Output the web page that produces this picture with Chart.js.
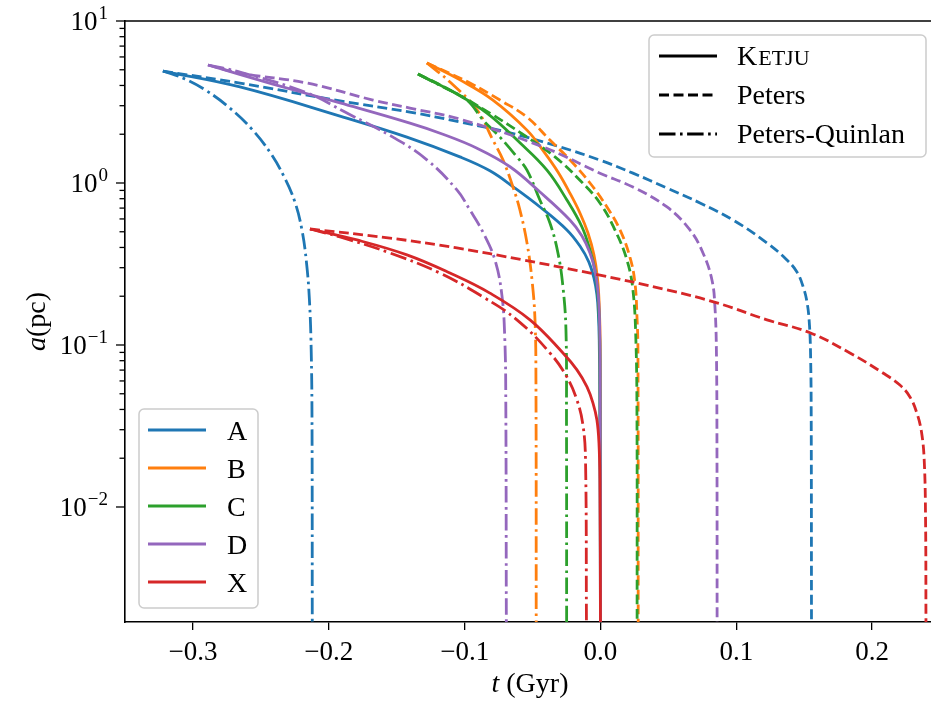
<!DOCTYPE html>
<html lang="en">
<head>
<meta charset="UTF-8" />
<title>Binary separation vs time</title>
<script src="https://cdn.jsdelivr.net/npm/chart.js"></script>
<style>
  body { margin: 0; background: #fff; }
  canvas { display: block; }
</style>
</head>
<body>
<canvas id="sep" width="931" height="703"></canvas>
<script>
// separation a (pc) against time t (Gyr) for each binary: Ketju run, Peters and Peters-Quinlan estimates
const tA_ketju  = [-0.3222, -0.2655, -0.1918, -0.1425, -0.1035, -0.0814, -0.0630, -0.0445, -0.0247, -0.0151, -0.0085, -0.0048, -0.0026, -0.0015, -0.0009, -0.0005, 0.0];
const aA_ketju  = [4.91, 3.92, 2.59, 1.92, 1.45, 1.19, 0.931, 0.711, 0.513, 0.408, 0.325, 0.259, 0.204, 0.153, 0.107, 0.0457, 0.0019];
const tA_peters = [-0.3222, -0.2655, -0.1918, -0.1403, -0.1035, -0.0666, -0.0298, 0.0, 0.0239, 0.0490, 0.0733, 0.0976, 0.1226, 0.1373, 0.1447, 0.1491, 0.1521, 0.1539, 0.1548, 0.1552, 0.1554];
const aA_peters = [4.91, 4.14, 3.21, 2.74, 2.38, 2.04, 1.67, 1.38, 1.15, 0.931, 0.753, 0.591, 0.427, 0.335, 0.282, 0.231, 0.184, 0.133, 0.0807, 0.0344, 0.0019];
const tA_pq     = [-0.3222, -0.3060, -0.2898, -0.2729, -0.2567, -0.2434, -0.2331, -0.2250, -0.2198, -0.2165, -0.2143, -0.2130, -0.2124, -0.2122];
const aA_pq     = [4.91, 4.39, 3.70, 2.90, 2.15, 1.55, 1.10, 0.764, 0.513, 0.325, 0.190, 0.0931, 0.0344, 0.0019];

const tB_ketju  = [-0.1278, -0.1035, -0.0792, -0.0541, -0.0409, -0.0313, -0.0225, -0.0151, -0.0092, -0.0048, -0.0022, -0.0009, -0.0002, 0.0];
const aB_ketju  = [5.51, 4.33, 3.25, 2.12, 1.53, 1.17, 0.867, 0.653, 0.491, 0.360, 0.259, 0.177, 0.100, 0.0019];
const tB_peters = [-0.1278, -0.0961, -0.0740, -0.0541, -0.0372, -0.0225, -0.0077, 0.0048, 0.0144, 0.0217, 0.0254, 0.0269, 0.0276, 0.0278];
const aB_peters = [5.51, 4.14, 3.25, 2.55, 1.84, 1.39, 1.0, 0.711, 0.513, 0.349, 0.242, 0.149, 0.0931, 0.0019];
const tB_pq     = [-0.1278, -0.1108, -0.0909, -0.0792, -0.0718, -0.0644, -0.0593, -0.0541, -0.0504, -0.0482, -0.0475, -0.0473];
const aB_pq     = [5.51, 4.20, 2.83, 1.84, 1.39, 0.944, 0.681, 0.427, 0.252, 0.143, 0.0608, 0.0019];

const tC_ketju  = [-0.1344, -0.1086, -0.0836, -0.0593, -0.0394, -0.0247, -0.0136, -0.0077, -0.0041, -0.0020, -0.0009, -0.0003, 0.0];
const aC_ketju  = [4.71, 3.65, 2.70, 1.77, 1.20, 0.785, 0.535, 0.386, 0.290, 0.209, 0.143, 0.0807, 0.0019];
const tC_peters = [-0.1344, -0.1108, -0.0814, -0.0541, -0.0335, -0.0151, -0.0004, 0.0107, 0.0195, 0.0239, 0.0261, 0.0269, 0.0270];
const aC_peters = [4.71, 3.75, 2.70, 1.92, 1.45, 1.04, 0.753, 0.513, 0.335, 0.219, 0.107, 0.0344, 0.0019];
const tC_pq     = [-0.1344, -0.1160, -0.0983, -0.0865, -0.0740, -0.0615, -0.0541, -0.0446, -0.0372, -0.0313, -0.0276, -0.0254, -0.0250, -0.0249];
const aC_pq     = [4.71, 3.92, 3.25, 2.45, 1.92, 1.45, 1.20, 0.785, 0.566, 0.370, 0.228, 0.124, 0.0344, 0.0019];

const tD_ketju  = [-0.2890, -0.2412, -0.1918, -0.1403, -0.1160, -0.0909, -0.0666, -0.0445, -0.0225, -0.0136, -0.0077, -0.0041, -0.0018, -0.0007, -0.0002, 0.0];
const aD_ketju  = [5.35, 4.08, 3.12, 2.34, 2.00, 1.64, 1.26, 0.879, 0.591, 0.471, 0.370, 0.290, 0.212, 0.143, 0.0702, 0.0019];
const tD_peters = [-0.2890, -0.2655, -0.2161, -0.1675, -0.1403, -0.1035, -0.0423, -0.0004, 0.0239, 0.0490, 0.0659, 0.0755, 0.0821, 0.0843, 0.0854, 0.0858, 0.0859];
const aD_peters = [5.35, 4.77, 4.14, 3.25, 2.90, 2.48, 1.67, 1.15, 0.944, 0.711, 0.513, 0.370, 0.252, 0.172, 0.0893, 0.0215, 0.0019];
const tD_pq     = [-0.2890, -0.2655, -0.2161, -0.1867, -0.1528, -0.1278, -0.1057, -0.0961, -0.0862, -0.0777, -0.0726, -0.0704, -0.0697, -0.0693];
const aD_pq     = [5.35, 4.84, 3.60, 2.70, 1.92, 1.39, 0.906, 0.681, 0.491, 0.335, 0.204, 0.107, 0.0457, 0.0019];

const tX_ketju  = [-0.2139, -0.1793, -0.1425, -0.1108, -0.0814, -0.0519, -0.0276, -0.0173, -0.0099, -0.0055, -0.0026, -0.0011, -0.0004, 0.0];
const aX_ketju  = [0.520, 0.445, 0.360, 0.278, 0.209, 0.143, 0.0893, 0.0702, 0.0551, 0.0438, 0.0344, 0.0248, 0.0147, 0.0019];
const tX_peters = [-0.2139, -0.1550, -0.1057, -0.0571, -0.0004, 0.0490, 0.0858, 0.1226, 0.1543, 0.1837, 0.2080, 0.2205, 0.2279, 0.2330, 0.2364, 0.2384, 0.2394, 0.2397];
const aX_peters = [0.520, 0.457, 0.397, 0.335, 0.270, 0.219, 0.182, 0.143, 0.119, 0.0893, 0.0672, 0.0566, 0.0478, 0.0380, 0.0290, 0.0195, 0.0083, 0.0019];
const tX_pq     = [-0.2139, -0.1918, -0.1550, -0.1182, -0.0865, -0.0615, -0.0372, -0.0247, -0.0173, -0.0129, -0.0110, -0.0103];
const aX_pq     = [0.520, 0.464, 0.370, 0.278, 0.198, 0.143, 0.0893, 0.0634, 0.0457, 0.0321, 0.0195, 0.0019];

const binaryNames = ['A', 'B', 'C', 'D', 'X'];
const binaryColors = ['#1f77b4', '#ff7f0e', '#2ca02c', '#9467bd', '#d62728'];
const modelNames = ['Ketju', 'Peters', 'Peters-Quinlan'];
const xTicks = [-0.3, -0.2, -0.1, 0.0, 0.1, 0.2];
const yDecades = [-2, -1, 0, 1];

const runs = [
  [[tA_ketju, aA_ketju], [tA_peters, aA_peters], [tA_pq, aA_pq]],
  [[tB_ketju, aB_ketju], [tB_peters, aB_peters], [tB_pq, aB_pq]],
  [[tC_ketju, aC_ketju], [tC_peters, aC_peters], [tC_pq, aC_pq]],
  [[tD_ketju, aD_ketju], [tD_peters, aD_peters], [tD_pq, aD_pq]],
  [[tX_ketju, aX_ketju], [tX_peters, aX_peters], [tX_pq, aX_pq]]
];

const SERIF = '"Liberation Serif", "DejaVu Serif", serif';
const LW = 2.8;
const dashes = [[], [10, 4.5], [16.5, 4.5, 2.6, 4.5]];

const datasets = [];
runs.forEach((run, b) => {
  run.forEach(([ts, as], m) => {
    datasets.push({
      label: binaryNames[b] + ' ' + modelNames[m],
      data: ts.map((t, i) => ({ x: t, y: as[i] })),
      borderColor: binaryColors[b],
      borderWidth: LW,
      borderDash: dashes[m],
      showLine: true,
      pointRadius: 0,
      tension: 0.4,
      order: -datasets.length   // later series painted on top
    });
  });
});

function drawLegendFrame(ctx, x, y, w, h) {
  ctx.save();
  ctx.fillStyle = 'rgba(255,255,255,0.8)';
  ctx.strokeStyle = '#cccccc';
  ctx.lineWidth = 1.5;
  ctx.beginPath();
  ctx.roundRect(x, y, w, h, 5);
  ctx.fill();
  ctx.stroke();
  ctx.restore();
}

function legendLine(ctx, x0, x1, y, color, dash) {
  ctx.save();
  ctx.strokeStyle = color;
  ctx.lineWidth = LW;
  ctx.setLineDash(dash);
  ctx.beginPath();
  ctx.moveTo(x0, y);
  ctx.lineTo(x1, y);
  ctx.stroke();
  ctx.restore();
}

const decorations = {
  id: 'decorations',
  afterDraw(chart) {
    const { ctx, chartArea: ca, scales: { y } } = chart;
    ctx.save();

    // top spine
    ctx.strokeStyle = '#000';
    ctx.lineWidth = 1.6;
    ctx.beginPath();
    ctx.moveTo(ca.left - 0.8, ca.top);
    ctx.lineTo(ca.right, ca.top);
    ctx.stroke();

    // log ticks on the y axis
    ctx.lineWidth = 1.3;
    yDecades.forEach(e => {
      for (let m = 1; m <= 9; m++) {
        const v = m * Math.pow(10, e);
        if (v < y.min || v > y.max * 1.0001) continue;
        const py = y.getPixelForValue(v);
        ctx.beginPath();
        ctx.moveTo(ca.left, py);
        ctx.lineTo(ca.left - (m === 1 ? 9 : 5.5), py);
        ctx.stroke();
      }
      // 10^e label
      const py = y.getPixelForValue(Math.pow(10, e));
      const exp = e < 0 ? '\u2212' + (-e) : String(e);
      ctx.fillStyle = '#000';
      ctx.textAlign = 'right';
      ctx.textBaseline = 'alphabetic';
      ctx.font = '19px ' + SERIF;
      const expRight = 108;
      ctx.fillText(exp, expRight, py - 2);
      const expW = ctx.measureText(exp).width;
      ctx.font = '27px ' + SERIF;
      ctx.fillText('10', expRight - expW - 1, py + 9);
    });

    // axis titles
    ctx.fillStyle = '#000';
    ctx.textBaseline = 'alphabetic';
    ctx.textAlign = 'left';
    ctx.font = 'italic 28px ' + SERIF;
    const tW = ctx.measureText('t').width;
    ctx.font = '28px ' + SERIF;
    const gW = ctx.measureText(' (Gyr)').width;
    let xs = 530 - (tW + gW) / 2;
    ctx.font = 'italic 28px ' + SERIF;
    ctx.fillText('t', xs, 692);
    ctx.font = '28px ' + SERIF;
    ctx.fillText(' (Gyr)', xs + tW, 692);

    ctx.save();
    ctx.translate(45, (ca.top + ca.bottom) / 2);
    ctx.rotate(-Math.PI / 2);
    ctx.font = 'italic 28px ' + SERIF;
    const aW = ctx.measureText('a').width;
    ctx.font = '28px ' + SERIF;
    const pcW = ctx.measureText('(pc)').width;
    xs = -(aW + pcW) / 2;
    ctx.font = 'italic 28px ' + SERIF;
    ctx.fillText('a', xs, 0);
    ctx.font = '28px ' + SERIF;
    ctx.fillText('(pc)', xs + aW, 0);
    ctx.restore();

    // model legend (upper right)
    drawLegendFrame(ctx, 649, 35, 277, 122);
    const modelRows = [56, 95, 134];
    modelRows.forEach((ry, m) => {
      legendLine(ctx, 659, 717, ry, '#000', dashes[m]);
      ctx.fillStyle = '#000';
      ctx.textAlign = 'left';
      if (m === 0) {
        // small caps name
        ctx.font = '28px ' + SERIF;
        ctx.fillText('K', 737, ry + 9);
        const kW = ctx.measureText('K').width;
        ctx.font = '22px ' + SERIF;
        ctx.fillText('ETJU', 737 + kW + 1, ry + 9);
      } else {
        ctx.font = '28px ' + SERIF;
        ctx.fillText(modelNames[m], 737, ry + 9);
      }
    });

    // binary legend (lower left)
    drawLegendFrame(ctx, 139, 409, 119, 199);
    const binRows = [430, 468, 506, 544, 582];
    binRows.forEach((ry, b) => {
      legendLine(ctx, 148, 206, ry, binaryColors[b], []);
      ctx.fillStyle = '#000';
      ctx.textAlign = 'left';
      ctx.font = '28px ' + SERIF;
      ctx.fillText(binaryNames[b], 227, ry + 10);
    });

    ctx.restore();
  }
};

new Chart(document.getElementById('sep').getContext('2d'), {
  type: 'scatter',
  data: { datasets },
  options: {
    responsive: false,
    animation: false,
    layout: { padding: { top: 21, right: 0, bottom: 0, left: 0 } },
    plugins: { legend: { display: false }, tooltip: { enabled: false } },
    scales: {
      x: {
        type: 'linear',
        min: -0.3501,
        max: 0.2434,
        afterBuildTicks: s => { s.ticks = xTicks.map(v => ({ value: v })); },
        afterFit: s => { s.height = 81; },
        grid: { display: true, drawOnChartArea: false, drawTicks: true, tickLength: 8, color: '#000', lineWidth: 1.3 },
        border: { display: true, color: '#000', width: 1.6 },
        ticks: {
          color: '#000',
          font: { family: SERIF, size: 27 },
          padding: 7,
          maxRotation: 0,
          autoSkip: false,
          callback: v => (v < 0 ? '\u2212' : '') + Math.abs(v).toFixed(1)
        }
      },
      y: {
        type: 'logarithmic',
        min: 0.00195,
        max: 10,
        afterFit: s => { s.width = 125; },
        grid: { display: false },
        border: { display: true, color: '#000', width: 1.6 },
        ticks: { display: false }
      }
    }
  },
  plugins: [decorations]
});
</script>
</body>
</html>
